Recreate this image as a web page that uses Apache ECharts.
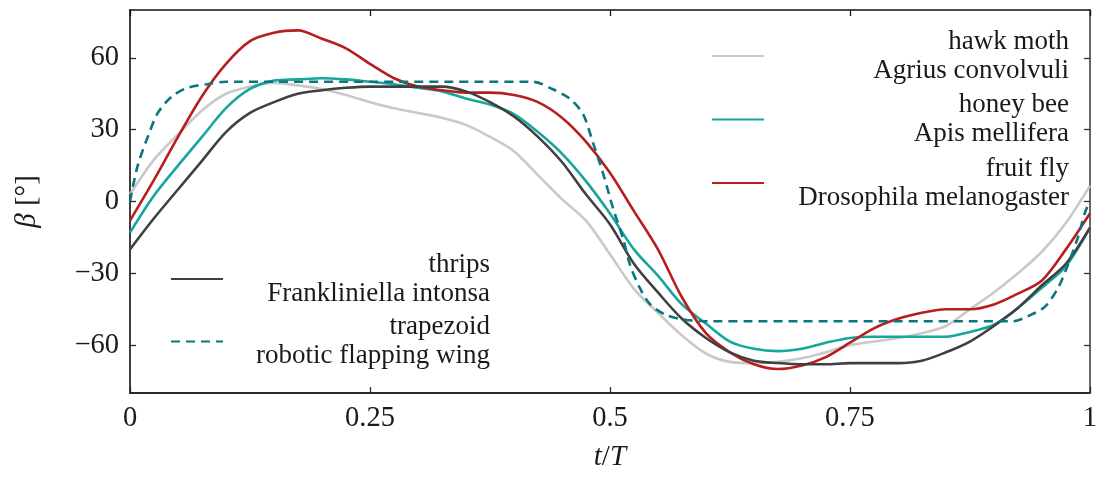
<!DOCTYPE html>
<html>
<head>
<meta charset="utf-8">
<script src="https://cdn.jsdelivr.net/npm/echarts@6/dist/echarts.min.js"></script>
<style>
  html, body { margin: 0; padding: 0; background: #fff; }
  #chart { width: 1100px; height: 480px; }
</style>
</head>
<body>
<div id="chart"></div>
<script>
// t/T sample points for the measured insect kinematics
const tGrid = [0, 0.025, 0.05, 0.075, 0.1, 0.125, 0.15, 0.175, 0.2, 0.225,
  0.25, 0.275, 0.3, 0.325, 0.35, 0.375, 0.4, 0.425, 0.45, 0.475,
  0.5, 0.525, 0.55, 0.575, 0.6, 0.625, 0.65, 0.675, 0.7, 0.725,
  0.75, 0.775, 0.8, 0.825, 0.85, 0.875, 0.9, 0.925, 0.95, 0.975, 1];

const hawkMoth = [3, 17.5, 28, 38, 45, 48, 49.5, 48.5, 47, 44.5,
  41.5, 39, 37, 35, 32, 27, 21, 11, 1, -8,
  -22, -36.5, -46.5, -56, -63.5, -67, -67.5, -67, -65.5, -63,
  -60, -58.5, -57, -55, -52, -45, -38, -30, -21, -9, 6.5];

const honeyBee = [-13, 2.5, 15, 27, 39, 47, 50.5, 51, 51.5, 51,
  50, 49, 47.5, 46, 43, 40.5, 36.5, 29, 20, 8.5,
  -5, -20, -31, -43, -51, -58.5, -61.5, -62.5, -61.5, -59,
  -57, -56.5, -56.5, -56.5, -56.5, -54.5, -51.5, -44.5, -36, -27, -11];

const fruitFly = [-8, 9, 27, 44, 57.5, 67, 70.5, 71.5, 68, 64,
  57.5, 51.5, 48, 46.5, 45.5, 45.5, 44.5, 41.5, 35, 25,
  12, -4, -20, -40, -55, -63, -68, -70, -68.5, -65,
  -59, -53, -49, -46.5, -45, -45, -43, -38.5, -33, -20, -5];

const thrips = [-20, -7, 5, 17, 29, 37, 41.5, 45, 46.5, 47.5,
  48, 48, 48, 48, 46, 41.5, 35.5, 27, 16.5, 3,
  -9.5, -26, -38, -49, -57, -63, -66.5, -67.5, -68, -68,
  -67.5, -67.5, -67.5, -66.5, -63, -58.5, -52, -44.5, -35, -26, -11];

// robotic wing: trapezoid stroke, sampled finer around the reversals
const trapT = [0, 0.008, 0.019, 0.029, 0.044, 0.06, 0.08, 0.1, 0.42, 0.44,
  0.458, 0.472, 0.482, 0.493, 0.503, 0.514, 0.521, 0.531, 0.542, 0.559,
  0.58, 0.6, 0.92, 0.935, 0.953, 0.967, 0.977, 0.9875, 0.995, 1];
const trapBeta = [0, 15, 27.5, 37, 44, 47.5, 49, 50, 50, 47,
  43, 36.5, 25, 11.5, -2.5, -16, -26.5, -36, -43, -47.5,
  -49.5, -50, -50, -48, -44, -36, -26.5, -15, -4.5, 0];

const yTicks = [-60, -30, 0, 30, 60];

const names = ['hawk moth', 'honey bee', 'fruit fly', 'thrips', 'trapezoid'];
const subNames = ['Agrius convolvuli', 'Apis mellifera', 'Drosophila melanogaster',
  'Frankliniella intonsa', 'robotic flapping wing'];

const FONT = '"Liberation Serif", "DejaVu Serif", serif';
const INK = '#1a1a1a';

const pairs = (xs, ys) => xs.map((x, i) => [x, ys[i]]);

function lineSeries(name, data, color, extra) {
  return Object.assign({
    name,
    type: 'line',
    xAxisIndex: 0,
    yAxisIndex: 0,
    data,
    smooth: 0.3,
    symbol: 'none',
    color,
    lineStyle: { width: 2.6, color },
    emphasis: { disabled: true },
  }, extra || {});
}

const legendText = (w) => ({
  fontFamily: FONT,
  fontSize: 27,
  color: INK,
  rich: {
    a: { width: w, align: 'right', fontFamily: FONT, fontSize: 27, lineHeight: 29, color: INK },
  },
});
const legendFmt = (name) => {
  const i = names.indexOf(name);
  return '{a|' + name + '}\n{a|' + subNames[i] + '}';
};

const minusFmt = (v) => (v < 0 ? '\u2212' + Math.abs(v) : String(v));

// hide the circle ECharts puts on line legend icons
const noMarker = { color: 'rgba(0,0,0,0)', borderColor: 'rgba(0,0,0,0)', borderWidth: 0 };

const chart = echarts.init(document.getElementById('chart'), null, { renderer: 'canvas' });

chart.setOption({
  animation: false,
  backgroundColor: '#fff',
  grid: { left: 130, right: 10, top: 10, bottom: 87 },
  legend: [
    {
      data: ['hawk moth', 'honey bee', 'fruit fly'],
      orient: 'vertical',
      left: 711,
      top: 28,
      padding: 0,
      itemWidth: 52,
      itemHeight: 10,
      itemGap: 7.5,
      selectedMode: false,
      itemStyle: noMarker,
      formatter: legendFmt,
      textStyle: legendText(300),
    },
    {
      data: ['thrips', 'trapezoid'],
      orient: 'vertical',
      left: 170,
      top: 251,
      padding: 0,
      itemWidth: 52,
      itemHeight: 10,
      itemGap: 6.5,
      selectedMode: false,
      itemStyle: noMarker,
      formatter: legendFmt,
      textStyle: legendText(262),
    },
  ],
  xAxis: [
    {
      type: 'value',
      min: 0,
      max: 1,
      interval: 0.25,
      position: 'bottom',
      name: '{i|t}/{i|T}',
      nameLocation: 'middle',
      nameGap: 50,
      nameTextStyle: {
        fontFamily: FONT, fontSize: 29, color: INK,
        rich: { i: { fontFamily: FONT, fontSize: 29, fontStyle: 'italic', color: INK } },
      },
      axisLine: { onZero: false, lineStyle: { color: '#2a2a2a', width: 1.8 } },
      axisTick: { inside: true, length: 6, lineStyle: { color: '#2a2a2a', width: 1.3 } },
      axisLabel: { fontFamily: FONT, fontSize: 28.5, color: INK, margin: 11 },
      splitLine: { show: false },
    },
    {
      type: 'value',
      min: 0,
      max: 1,
      interval: 0.25,
      position: 'top',
      axisLine: { onZero: false, lineStyle: { color: '#111', width: 1.5 } },
      axisTick: { inside: true, length: 6, lineStyle: { color: '#111', width: 1.3 } },
      axisLabel: { show: false },
      splitLine: { show: false },
    },
  ],
  yAxis: [
    {
      type: 'value',
      min: -80,
      max: 80,
      position: 'left',
      name: '{i|\u03b2} [\u00b0]',
      nameLocation: 'middle',
      nameRotate: 90,
      nameGap: 88,
      nameTextStyle: {
        fontFamily: FONT, fontSize: 29, color: INK,
        rich: { i: { fontFamily: FONT, fontSize: 29, fontStyle: 'italic', color: INK } },
      },
      axisLine: { show: true, onZero: false, lineStyle: { color: '#2a2a2a', width: 1.8 } },
      axisTick: { show: true, inside: true, length: 6, customValues: yTicks, lineStyle: { color: '#2a2a2a', width: 1.3 } },
      axisLabel: { customValues: yTicks, formatter: minusFmt, fontFamily: FONT, fontSize: 28.5, color: INK, margin: 11 },
      splitLine: { show: false },
    },
    {
      type: 'value',
      min: -80,
      max: 80,
      position: 'right',
      axisLine: { show: true, onZero: false, lineStyle: { color: '#333', width: 1.5 } },
      axisTick: { show: true, inside: true, length: 6, customValues: yTicks, lineStyle: { color: '#333', width: 1.3 } },
      axisLabel: { show: false, customValues: yTicks },
      splitLine: { show: false },
    },
  ],
  series: [
    lineSeries('hawk moth', pairs(tGrid, hawkMoth), '#c9c9c9'),
    lineSeries('honey bee', pairs(tGrid, honeyBee), '#17a69b'),
    lineSeries('fruit fly', pairs(tGrid, fruitFly), '#b71f1f'),
    lineSeries('thrips', pairs(tGrid, thrips), '#404040'),
    lineSeries('trapezoid', pairs(trapT, trapBeta), '#0b7580', {
      lineStyle: { width: 2.6, color: '#0b7580', type: [9, 6] },
    }),
  ],
});
</script>
</body>
</html>
